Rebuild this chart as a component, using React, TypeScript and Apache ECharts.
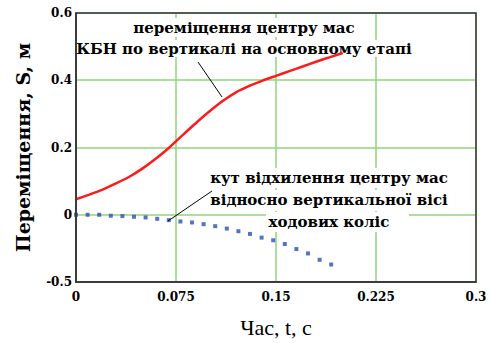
import React, { useEffect, useRef } from "react";
import * as echarts from "echarts";

const redT = [0, 0.01, 0.02, 0.03, 0.04, 0.05, 0.06, 0.07, 0.08, 0.09, 0.1, 0.11, 0.12, 0.13, 0.14, 0.15, 0.16, 0.17, 0.18, 0.19, 0.2];
const redS = [0.046, 0.06, 0.075, 0.093, 0.113, 0.138, 0.167, 0.2, 0.237, 0.273, 0.307, 0.338, 0.364, 0.383, 0.399, 0.413, 0.427, 0.441, 0.455, 0.468, 0.481];

const blueT = [0, 0.0087, 0.0174, 0.0261, 0.0348, 0.0435, 0.0522, 0.0609, 0.0696, 0.0783, 0.087, 0.0957, 0.1044, 0.1131, 0.1218, 0.1305, 0.1392, 0.1479, 0.1566, 0.1653, 0.174, 0.1827, 0.1914];
const blueA = [0, 0, 0, -0.003, -0.004, -0.006, -0.008, -0.012, -0.016, -0.02, -0.023, -0.028, -0.034, -0.041, -0.049, -0.057, -0.068, -0.076, -0.087, -0.102, -0.115, -0.134, -0.148];

const xTicks = [0, 0.075, 0.15, 0.225, 0.3];
const yLabelMap: Record<string, string> = { "-0.2": "-0.5", "0": "0", "0.2": "0.2", "0.4": "0.4", "0.6": "0.6" };

const SERIF = "Liberation Serif";
const BOLD_SERIF = "DejaVu Serif";

export default function App() {
  const ref = useRef<HTMLDivElement>(null);
  useEffect(() => {
    if (!ref.current) return;
    const chart = echarts.init(ref.current, null, { renderer: "svg" });
    const gridLeft = 76, gridTop = 13, gridRight = 12, gridBottom = 61;
    const W = 488, H = 343;
    const textStyle = {
      fontFamily: BOLD_SERIF,
      fontWeight: "bold",
      fill: "#000",
      fontSize: 15,
      align: "center",
      verticalAlign: "middle",
    };
    const tickLabel = {
      color: "#000",
      fontFamily: BOLD_SERIF,
      fontWeight: "bold",
      fontSize: 12,
    };
    chart.setOption({
      animation: false,
      backgroundColor: "#fff",
      grid: { left: gridLeft, top: gridTop, right: gridRight, bottom: gridBottom, outerBoundsMode: "none", containLabel: false },
      xAxis: {
        type: "value",
        min: 0,
        max: 0.3,
        interval: 0.075,
        axisLine: { show: true, onZero: false, lineStyle: { color: "#333", width: 1.5 } },
        axisTick: { show: false },
        splitLine: { show: true, lineStyle: { color: "#8fd67a", width: 1.5 } },
        axisLabel: {
          ...tickLabel,
          margin: 9,
          formatter: (v: number) => {
            const m = xTicks.find((t) => Math.abs(t - v) < 1e-9);
            return m === undefined ? "" : String(m);
          },
        },
        name: "Час, t, с",
        nameLocation: "middle",
        nameGap: 45,
        nameTextStyle: { color: "#000", fontFamily: SERIF, fontWeight: "normal", fontSize: 22, verticalAlign: "middle" },
      },
      yAxis: {
        type: "value",
        min: -0.2,
        max: 0.6,
        interval: 0.2,
        axisLine: { show: true, onZero: false, lineStyle: { color: "#333", width: 1.5 } },
        axisTick: { show: false },
        splitLine: { show: true, lineStyle: { color: "#8fd67a", width: 1.5 } },
        axisLabel: {
          ...tickLabel,
          margin: 4,
          formatter: (v: number) => {
            const k = String(Math.round(v * 10) / 10);
            return yLabelMap[k] ?? "";
          },
        },
        name: "Переміщення, S, м",
        nameLocation: "middle",
        nameGap: 44,
        nameRotate: 90,
        nameTextStyle: { color: "#000", fontFamily: BOLD_SERIF, fontWeight: "bold", fontSize: 19 },
      },
      series: [
        {
          type: "line",
          data: redT.map((t, i) => [t, redS[i]]),
          showSymbol: false,
          smooth: 0.2,
          lineStyle: { color: "#ff1a1a", width: 2.5 },
          z: 8,
        },
        {
          type: "scatter",
          data: blueT.map((t, i) => [t, blueA[i]]),
          symbol: "rect",
          symbolSize: 4,
          itemStyle: { color: "#2950b0" },
          z: 3,
        },
      ],
      graphic: [
        {
          type: "rect",
          z: 10,
          shape: { x: gridLeft, y: gridTop, width: W - gridLeft - gridRight, height: H - gridTop - gridBottom },
          style: { fill: "none", stroke: "#333", lineWidth: 1.5 },
          silent: true,
        },
        { type: "rect", z: 5, shape: { x: 130, y: 18, width: 228, height: 19 }, style: { fill: "#fff" } },
        { type: "rect", z: 5, shape: { x: 77, y: 40, width: 336, height: 17 }, style: { fill: "#fff" } },
        { type: "text", z: 6, x: 244, y: 28, style: { ...textStyle, text: "переміщення центру мас" } },
        { type: "text", z: 6, x: 244, y: 49, style: { ...textStyle, text: "КБН по вертикалі на основному етапі" } },
        { type: "line", z: 6, shape: { x1: 198, y1: 62, x2: 222, y2: 97 }, style: { stroke: "#000", lineWidth: 1 } },
        { type: "rect", z: 5, shape: { x: 208, y: 168, width: 242, height: 20 }, style: { fill: "#fff" } },
        { type: "rect", z: 5, shape: { x: 208, y: 190, width: 242, height: 21 }, style: { fill: "#fff" } },
        { type: "rect", z: 5, shape: { x: 266, y: 212, width: 143, height: 20 }, style: { fill: "#fff" } },
        { type: "text", z: 6, x: 329, y: 178, style: { ...textStyle, text: "кут відхилення центру мас" } },
        { type: "text", z: 6, x: 329, y: 200, style: { ...textStyle, text: "відносно вертикальної вісі" } },
        { type: "text", z: 6, x: 329, y: 222, style: { ...textStyle, text: "ходових коліс" } },
        { type: "line", z: 6, shape: { x1: 168, y1: 221, x2: 212, y2: 191 }, style: { stroke: "#000", lineWidth: 1 } },
      ],
    });
    return () => chart.dispose();
  }, []);
  return <div ref={ref} style={{ width: 488, height: 343, position: "absolute", left: 0, top: 0 }} />;
}
